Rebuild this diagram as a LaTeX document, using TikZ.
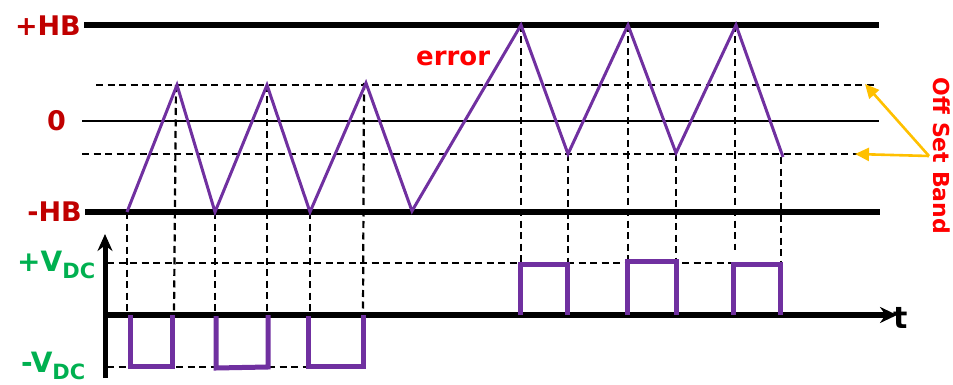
\documentclass[tikz,border=0pt]{standalone}
\usepackage{fontspec}
\setmainfont{DejaVu Sans}
\usetikzlibrary{arrows.meta}
\definecolor{dred}{HTML}{C00000}
\definecolor{dgreen}{HTML}{00B050}
\definecolor{wpurple}{HTML}{7030A0}
\definecolor{bred}{HTML}{FF0000}
\definecolor{byellow}{HTML}{FFC000}
\tikzset{
  thickline/.style={line width=6pt},
  thinline/.style={line width=2.4pt},
  dashline/.style={line width=2.2pt, dash pattern=on 7pt off 4.5pt},
  triwave/.style={wpurple, line width=3pt, line join=miter},
  sqwave/.style={wpurple, line width=5pt, line join=miter},
  hblabel/.style={text=dred, font=\bfseries\fontsize{27}{30}\selectfont, inner sep=0pt},
  vlabel/.style={text=dgreen, font=\bfseries\fontsize{28}{30}\selectfont, inner sep=0pt},
  yarrow/.style={byellow, line width=2.6pt, -{Triangle[length=14pt,width=13pt]}}
}
\begin{document}
\begin{tikzpicture}[x=1pt,y=-1pt]
\useasboundingbox (0,0) rectangle (953,385);
% dashed band lines
\draw[dashline] (96,85) -- (877,85);
\draw[dashline] (82,154) -- (857,154);
\draw[dashline] (107,263) -- (783,263);
\draw[dashline] (107,367) -- (363,367);
% vertical dashed projections
\foreach \xa/\ya/\xb/\yb in {127/212/127/315, 176/85/174/315, 215/212/215/315, 267/85/267/315,
  310/212/310/315, 364/83/363/315, 521/25/521/263, 568/154/568/263, 628/25/628/263,
  676/154/676/263, 735/25/735/250, 781/157/781/270}
  \draw[dashline] (\xa,\ya) -- (\xb,\yb);
% main horizontal lines
\draw[thickline] (84,25) -- (879,25);
\draw[thinline] (82,121) -- (879,121);
\draw[thickline] (85,212) -- (880,212);
% axes
\draw[line width=5pt, -{Stealth[length=17pt,width=15pt]}] (105,378) -- (105,234);
\draw[line width=6pt, -{Stealth[length=17pt,width=16pt]}] (103,315) -- (897,315);
% triangle wave
\draw[triwave] (127,212) -- (177,85) -- (215,212) -- (267,85) -- (310,212) -- (366,83)
  -- (412,211) -- (521,25) -- (568,154) -- (628,25) -- (676,153) -- (736,25) -- (783,157);
% square wave
\draw[sqwave] (130,315) -- (130,366) -- (172,366) -- (172,315);
\draw[sqwave] (216,316) -- (216,368) -- (268,367) -- (268,315);
\draw[sqwave] (308,316) -- (308,366) -- (363,366) -- (363,315);
\draw[sqwave] (520,315) -- (520,264) -- (567,264) -- (567,315);
\draw[sqwave] (627,315) -- (627,261) -- (676,261) -- (676,315);
\draw[sqwave] (733,315) -- (733,264) -- (780,264) -- (780,315);
% labels
\node[hblabel, anchor=east] (phb) at (81,26) {+HB};
\node[hblabel, anchor=east] (zero) at (66,121) {0};
\node[hblabel, anchor=east] (mhb) at (82,212) {-HB};
\node[vlabel, anchor=base west] (pvdc) at (17,271) {+V\textsubscript{\fontsize{21}{22}\selectfont DC}};
\node[vlabel, anchor=base west] (mvdc) at (21,372) {-V\textsubscript{\fontsize{21}{22}\selectfont DC}};
\node[text=bred, font=\bfseries\fontsize{26}{28}\selectfont, inner sep=0pt, anchor=base west] (err) at (416,66) {error};
\node[text=black, font=\bfseries\fontsize{30}{32}\selectfont, inner sep=0pt, anchor=base west] (tlab) at (893,328) {t};
\node[text=bred, font=\bfseries\fontsize{22}{24}\selectfont, inner sep=0pt, rotate=-90, anchor=center] (osb) at (942,156) {Off Set Band};
% yellow arrows
\coordinate (src) at (929,156);
\coordinate (tupper) at (865,84);
\coordinate (tlower) at (855,154);
\draw[yarrow] (src) -- (tupper);
\draw[yarrow] (src) -- (tlower);
\end{tikzpicture}
\end{document}
